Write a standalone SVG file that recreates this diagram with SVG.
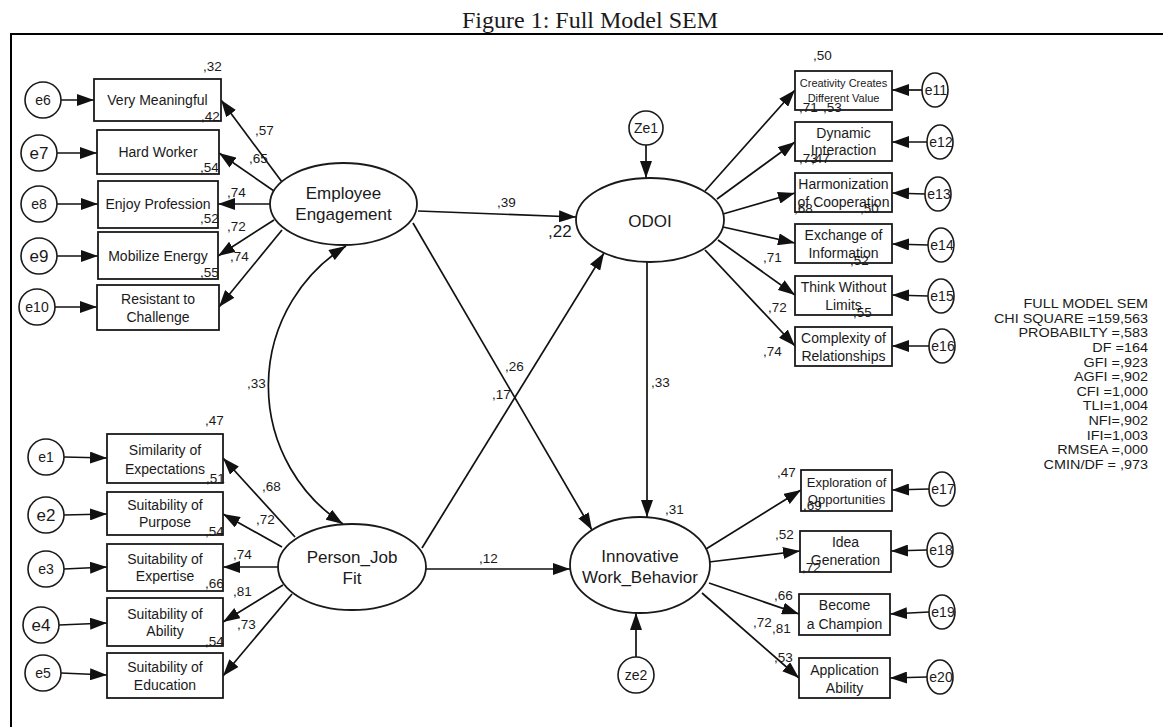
<svg xmlns="http://www.w3.org/2000/svg" width="1163" height="727" viewBox="0 0 1163 727">
  <style>
    .bg { fill: #ffffff; }
    .frame { stroke: #000; stroke-width: 2; fill: none; }
    .box { fill: #ffffff; stroke: #1a1a1a; stroke-width: 1.8; }
    .lat { fill: #ffffff; stroke: #1a1a1a; stroke-width: 1.8; }
    .err { fill: #ffffff; stroke: #1a1a1a; stroke-width: 1.6; }
    .edge { stroke: #111; stroke-width: 1.7; fill: none; marker-end: url(#ah); }
    .cov { stroke: #111; stroke-width: 1.7; fill: none; marker-start: url(#ahs); marker-end: url(#ah); }
    text { font-family: "Liberation Sans", Arial, sans-serif; fill: #1a1a1a; }
    .t14 { font-size: 14px; text-anchor: middle; }
    .t13 { font-size: 13px; text-anchor: middle; }
    .t11 { font-size: 11px; text-anchor: middle; }
    .t17 { font-size: 17px; text-anchor: middle; }
    .num { font-size: 13.5px; }
    .stat { font-size: 12px; text-anchor: end; }
  </style>
  <defs>
    <marker id="ah" markerUnits="userSpaceOnUse" markerWidth="18" markerHeight="12" refX="17" refY="6" orient="auto">
      <path d="M0,0 L17,6 L0,12 z" fill="#111"/>
    </marker>
    <marker id="ahs" markerUnits="userSpaceOnUse" markerWidth="18" markerHeight="12" refX="0" refY="6" orient="auto">
      <path d="M17,0 L0,6 L17,12 z" fill="#111"/>
    </marker>
  </defs>

  <rect class="bg" x="0" y="0" width="1163" height="727"/>

  <!-- title and page frame -->
  <text x="590" y="28" style="font-family:'Liberation Serif','Times New Roman',serif;font-size:24px;text-anchor:middle">Figure 1: Full Model SEM</text>
  <path class="frame" d="M1163,34 H11 V727"/>

  <!-- connectors -->
  <g id="connectors">
    <!-- error terms to Employee Engagement indicators -->
    <line class="edge" x1="61" y1="100" x2="94" y2="100"/>
    <line class="edge" x1="57" y1="153" x2="97" y2="153"/>
    <line class="edge" x1="57" y1="204" x2="98" y2="204"/>
    <line class="edge" x1="57" y1="256" x2="98" y2="256"/>
    <line class="edge" x1="55" y1="307" x2="97" y2="307"/>
    <!-- Employee Engagement loadings -->
    <line class="edge" x1="282" y1="182" x2="221" y2="100"/>
    <line class="edge" x1="274" y1="191" x2="219" y2="153"/>
    <line class="edge" x1="270" y1="204" x2="218" y2="204"/>
    <line class="edge" x1="274" y1="220" x2="218" y2="256"/>
    <line class="edge" x1="282" y1="230" x2="219" y2="307"/>
    <!-- error terms to Person_Job Fit indicators -->
    <line class="edge" x1="64" y1="457" x2="107" y2="458"/>
    <line class="edge" x1="64" y1="515" x2="107" y2="514"/>
    <line class="edge" x1="64" y1="569" x2="107" y2="567"/>
    <line class="edge" x1="59" y1="625" x2="107" y2="623"/>
    <line class="edge" x1="61" y1="673" x2="107" y2="675"/>
    <!-- Person_Job Fit loadings -->
    <line class="edge" x1="295" y1="537" x2="223" y2="458"/>
    <line class="edge" x1="282" y1="547" x2="223" y2="514"/>
    <line class="edge" x1="278" y1="567" x2="223" y2="567"/>
    <line class="edge" x1="283" y1="585" x2="223" y2="622"/>
    <line class="edge" x1="292" y1="594" x2="223" y2="676"/>
    <!-- covariance between exogenous latents -->
    <path class="cov" d="M346,246 A165,165 0 0 0 343,524"/>
    <!-- structural paths -->
    <line class="edge" x1="418" y1="211" x2="576" y2="217"/>
    <line class="edge" x1="413" y1="223" x2="592" y2="530"/>
    <line class="edge" x1="422" y1="548" x2="604" y2="253"/>
    <line class="edge" x1="425" y1="569" x2="570" y2="569"/>
    <line class="edge" x1="647" y1="262" x2="647" y2="517"/>
    <!-- disturbances -->
    <line class="edge" x1="646" y1="145" x2="646" y2="178"/>
    <line class="edge" x1="636" y1="657" x2="636" y2="613"/>
    <!-- ODOI loadings -->
    <line class="edge" x1="705" y1="191" x2="795" y2="90"/>
    <line class="edge" x1="717" y1="199" x2="795" y2="142"/>
    <line class="edge" x1="723" y1="214" x2="795" y2="193"/>
    <line class="edge" x1="723" y1="227" x2="795" y2="243"/>
    <line class="edge" x1="718" y1="240" x2="795" y2="295"/>
    <line class="edge" x1="705" y1="250" x2="795" y2="346"/>
    <!-- error terms to ODOI indicators -->
    <line class="edge" x1="922" y1="90" x2="892" y2="90"/>
    <line class="edge" x1="927" y1="142" x2="892" y2="142"/>
    <line class="edge" x1="925" y1="194" x2="892" y2="193"/>
    <line class="edge" x1="928" y1="245" x2="892" y2="244"/>
    <line class="edge" x1="928" y1="296" x2="892" y2="295"/>
    <line class="edge" x1="929" y1="346" x2="892" y2="346"/>
    <!-- Innovative Work_Behavior loadings -->
    <line class="edge" x1="706" y1="549" x2="801" y2="490"/>
    <line class="edge" x1="709" y1="562" x2="800" y2="551"/>
    <line class="edge" x1="709" y1="583" x2="799" y2="614"/>
    <line class="edge" x1="702" y1="593" x2="799" y2="678"/>
    <!-- error terms to IWB indicators -->
    <line class="edge" x1="929" y1="489" x2="892" y2="490"/>
    <line class="edge" x1="927" y1="550" x2="891" y2="551"/>
    <line class="edge" x1="929" y1="612" x2="890" y2="614"/>
    <line class="edge" x1="927" y1="677" x2="890" y2="678"/>
  </g>

  <!-- Employee Engagement block -->
  <g id="employee-engagement">
    <ellipse class="lat" cx="343.5" cy="204" rx="73.5" ry="41"/>
    <text class="t17" x="343.5" y="199">Employee</text>
    <text class="t17" x="343.5" y="220">Engagement</text>
  </g>
  <g id="very-meaningful"><rect class="box" x="94" y="79" width="127" height="42"/><text class="t14" x="157.5" y="105">Very Meaningful</text></g>
  <g id="hard-worker"><rect class="box" x="97" y="130" width="122" height="44"/><text class="t14" x="158" y="157">Hard Worker</text></g>
  <g id="enjoy-profession"><rect class="box" x="98" y="181" width="120" height="47"/><text class="t14" x="158" y="208.5">Enjoy Profession</text></g>
  <g id="mobilize-energy"><rect class="box" x="98" y="232" width="120" height="47"/><text class="t14" x="158" y="260.5">Mobilize Energy</text></g>
  <g id="resistant-to-challenge"><rect class="box" x="97" y="285" width="122" height="45"/><text class="t14" x="158" y="303.5">Resistant to</text><text class="t14" x="158" y="321.5">Challenge</text></g>
  <g id="e6"><circle class="err" cx="43" cy="100" r="18"/><text class="t14" x="43" y="105">e6</text></g>
  <g id="e7"><circle class="err" cx="39" cy="153" r="18"/><text class="t17" x="39" y="159">e7</text></g>
  <g id="e8"><circle class="err" cx="39" cy="204" r="18"/><text class="t14" x="39" y="209">e8</text></g>
  <g id="e9"><circle class="err" cx="39" cy="256" r="18"/><text class="t17" x="39" y="262">e9</text></g>
  <g id="e10"><circle class="err" cx="37" cy="307" r="18"/><text class="t14" x="37" y="312">e10</text></g>

  <!-- Person_Job Fit block -->
  <g id="person-job-fit">
    <ellipse class="lat" cx="352" cy="567" rx="74" ry="43"/>
    <text class="t17" x="352" y="563">Person_Job</text>
    <text class="t17" x="352" y="583.5">Fit</text>
  </g>
  <g id="similarity-of-expectations"><rect class="box" x="107" y="434" width="116" height="49"/><text class="t14" x="165" y="455">Similarity of</text><text class="t14" x="165" y="473.5">Expectations</text></g>
  <g id="suitability-of-purpose"><rect class="box" x="107" y="492" width="116" height="43"/><text class="t14" x="165" y="510">Suitability of</text><text class="t14" x="165" y="527">Purpose</text></g>
  <g id="suitability-of-expertise"><rect class="box" x="107" y="544" width="116" height="47"/><text class="t14" x="165" y="563.5">Suitability of</text><text class="t14" x="165" y="581">Expertise</text></g>
  <g id="suitability-of-ability"><rect class="box" x="107" y="598" width="116" height="48"/><text class="t14" x="165" y="618.5">Suitability of</text><text class="t14" x="165" y="635.5">Ability</text></g>
  <g id="suitability-of-education"><rect class="box" x="107" y="653" width="116" height="45"/><text class="t14" x="165" y="672">Suitability of</text><text class="t14" x="165" y="689.5">Education</text></g>
  <g id="e1"><circle class="err" cx="46" cy="457" r="18"/><text class="t14" x="46" y="462">e1</text></g>
  <g id="e2"><circle class="err" cx="46" cy="515" r="18"/><text class="t17" x="46" y="521">e2</text></g>
  <g id="e3"><circle class="err" cx="46" cy="569" r="18"/><text class="t14" x="46" y="574">e3</text></g>
  <g id="e4"><circle class="err" cx="41" cy="625" r="18"/><text class="t17" x="41" y="631">e4</text></g>
  <g id="e5"><circle class="err" cx="43" cy="673" r="18"/><text class="t14" x="43" y="678">e5</text></g>

  <!-- ODOI block -->
  <g id="odoi">
    <ellipse class="lat" cx="650" cy="220" rx="74" ry="42"/>
    <text class="t17" x="650" y="227">ODOI</text>
  </g>
  <g id="ze1"><circle class="err" cx="646" cy="128" r="17"/><text class="t14" x="646" y="133">Ze1</text></g>
  <g id="creativity-creates-different-value"><rect class="box" x="795" y="71" width="97" height="39"/><text class="t11" x="843.5" y="86.5">Creativity Creates</text><text class="t11" x="843.5" y="101.5">Different Value</text></g>
  <g id="dynamic-interaction"><rect class="box" x="795" y="122" width="97" height="39"/><text class="t14" x="843.5" y="137.5">Dynamic</text><text class="t14" x="843.5" y="155">Interaction</text></g>
  <g id="harmonization-of-cooperation"><rect class="box" x="795" y="173" width="97" height="39"/><text class="t14" x="843.5" y="188.5">Harmonization</text><text class="t14" x="843.5" y="206.5">of Cooperation</text></g>
  <g id="exchange-of-information"><rect class="box" x="795" y="224" width="97" height="39"/><text class="t14" x="843.5" y="240">Exchange of</text><text class="t14" x="843.5" y="258">Information</text></g>
  <g id="think-without-limits"><rect class="box" x="795" y="276" width="97" height="39"/><text class="t14" x="843.5" y="291.5">Think Without</text><text class="t14" x="843.5" y="310">Limits</text></g>
  <g id="complexity-of-relationships"><rect class="box" x="795" y="327" width="97" height="39"/><text class="t14" x="843.5" y="342.5">Complexity of</text><text class="t14" x="843.5" y="360.5">Relationships</text></g>
  <g id="e11"><ellipse class="err" cx="935" cy="90" rx="13" ry="17"/><text class="t14" x="936" y="95">e11</text></g>
  <g id="e12"><ellipse class="err" cx="940" cy="142" rx="13" ry="17"/><text class="t14" x="941" y="147">e12</text></g>
  <g id="e13"><ellipse class="err" cx="938" cy="194" rx="13" ry="17"/><text class="t14" x="939" y="199">e13</text></g>
  <g id="e14"><ellipse class="err" cx="941" cy="245" rx="13" ry="17"/><text class="t14" x="942" y="250">e14</text></g>
  <g id="e15"><ellipse class="err" cx="941" cy="296" rx="13" ry="17"/><text class="t14" x="942" y="301">e15</text></g>
  <g id="e16"><ellipse class="err" cx="942" cy="346" rx="13" ry="17"/><text class="t14" x="943" y="351">e16</text></g>

  <!-- Innovative Work_Behavior block -->
  <g id="innovative-work-behavior">
    <ellipse class="lat" cx="640" cy="565" rx="70" ry="48"/>
    <text class="t17" x="640" y="561.5">Innovative</text>
    <text class="t17" x="640" y="582.5">Work_Behavior</text>
  </g>
  <g id="ze2"><circle class="err" cx="636" cy="675" r="18"/><text class="t14" x="636" y="680">ze2</text></g>
  <g id="exploration-of-opportunities"><rect class="box" x="801" y="470" width="91" height="41"/><text class="t13" x="846.5" y="486.5">Exploration of</text><text class="t13" x="846.5" y="503.5">Opportunities</text></g>
  <g id="idea-generation"><rect class="box" x="800" y="531" width="91" height="41"/><text class="t14" x="845.5" y="546.5">Idea</text><text class="t14" x="845.5" y="565">Generation</text></g>
  <g id="become-a-champion"><rect class="box" x="799" y="594" width="91" height="41"/><text class="t14" x="844.5" y="610">Become</text><text class="t14" x="844.5" y="628.5">a Champion</text></g>
  <g id="application-ability"><rect class="box" x="799" y="658" width="91" height="40"/><text class="t14" x="844.5" y="674.5">Application</text><text class="t14" x="844.5" y="692.5">Ability</text></g>
  <g id="e17"><ellipse class="err" cx="942" cy="489" rx="13" ry="17"/><text class="t14" x="943" y="494">e17</text></g>
  <g id="e18"><ellipse class="err" cx="940" cy="550" rx="13" ry="17"/><text class="t14" x="941" y="555">e18</text></g>
  <g id="e19"><ellipse class="err" cx="942" cy="612" rx="13" ry="17"/><text class="t14" x="943" y="617">e19</text></g>
  <g id="e20"><ellipse class="err" cx="940" cy="677" rx="13" ry="17"/><text class="t14" x="941" y="682">e20</text></g>

  <!-- estimates -->
  <g id="estimates" class="num">
    <text class="num" x="203" y="71">,32</text>
    <text class="num" x="201" y="121">,42</text>
    <text class="num" x="255" y="135">,57</text>
    <text class="num" x="249" y="163">,65</text>
    <text class="num" x="200" y="172">,54</text>
    <text class="num" x="227" y="197">,74</text>
    <text class="num" x="200" y="223">,52</text>
    <text class="num" x="227" y="231">,72</text>
    <text class="num" x="230" y="261">,74</text>
    <text class="num" x="200" y="277">,55</text>

    <text class="num" x="497" y="207">,39</text>
    <text x="548" y="237" style="font-size:17px">,22</text>
    <text class="num" x="505" y="371">,26</text>
    <text class="num" x="492" y="399">,17</text>
    <text class="num" x="247" y="388">,33</text>
    <text class="num" x="651" y="387">,33</text>
    <text class="num" x="665" y="514">,31</text>
    <text class="num" x="479" y="563">,12</text>

    <text class="num" x="813" y="60">,50</text>
    <text class="num" x="799" y="112">,71</text>
    <text class="num" x="823" y="112">,53</text>
    <text class="num" x="799" y="163">,73</text>
    <text class="num" x="811" y="163">,47</text>
    <text class="num" x="794" y="213">,68</text>
    <text class="num" x="860" y="213">,50</text>
    <text class="num" x="763" y="262">,71</text>
    <text class="num" x="850" y="265">,52</text>
    <text class="num" x="768" y="312">,72</text>
    <text class="num" x="853" y="317">,55</text>
    <text class="num" x="763" y="356">,74</text>

    <text class="num" x="777" y="477">,47</text>
    <text class="num" x="803" y="510">,69</text>
    <text class="num" x="775" y="539">,52</text>
    <text class="num" x="802" y="572">,72</text>
    <text class="num" x="774" y="600">,66</text>
    <text class="num" x="753" y="627">,72</text>
    <text class="num" x="772" y="633">,81</text>
    <text class="num" x="774" y="662">,53</text>

    <text class="num" x="205" y="425">,47</text>
    <text class="num" x="206" y="483">,51</text>
    <text class="num" x="262" y="491">,68</text>
    <text class="num" x="256" y="524">,72</text>
    <text class="num" x="205" y="536">,54</text>
    <text class="num" x="233" y="559">,74</text>
    <text class="num" x="205" y="588">,66</text>
    <text class="num" x="233" y="596">,81</text>
    <text class="num" x="237" y="629">,73</text>
    <text class="num" x="205" y="646">,54</text>
  </g>

  <!-- fit statistics -->
  <g id="fit-statistics" transform="translate(1148 0) scale(1.2 1)">
    <text class="stat" x="0" y="308.3">FULL MODEL SEM</text>
    <text class="stat" x="0" y="322.9">CHI SQUARE =159,563</text>
    <text class="stat" x="0" y="337.5">PROBABILTY =,583</text>
    <text class="stat" x="0" y="352.1">DF =164</text>
    <text class="stat" x="0" y="366.7">GFI =,923</text>
    <text class="stat" x="0" y="381.3">AGFI =,902</text>
    <text class="stat" x="0" y="395.9">CFI =1,000</text>
    <text class="stat" x="0" y="410.5">TLI=1,004</text>
    <text class="stat" x="0" y="425.1">NFI=,902</text>
    <text class="stat" x="0" y="439.7">IFI=1,003</text>
    <text class="stat" x="0" y="454.3">RMSEA =,000</text>
    <text class="stat" x="0" y="468.9">CMIN/DF = ,973</text>
  </g>
</svg>
